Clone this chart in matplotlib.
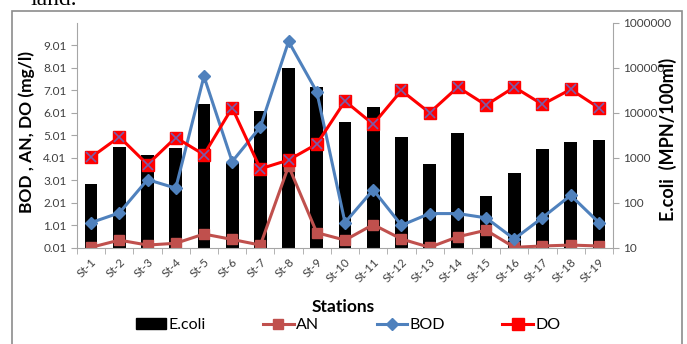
import matplotlib
matplotlib.use("Agg")
import matplotlib.pyplot as plt
from matplotlib.patches import Rectangle
from matplotlib.lines import Line2D
import numpy as np

# stations along the x axis
stations = ["St-%d" % i for i in range(1, 20)]

# E.coli (MPN/100ml), right log axis
ecoli = [265, 1750, 1170, 1660, 15800, 780, 11000, 100000, 38000, 6300,
         13500, 2950, 740, 3600, 145, 465, 1580, 2290, 2500]

# BOD, AN, DO (mg/l), left axis
bod = [1.14, 1.57, 3.05, 2.67, 7.64, 3.85, 5.39, 9.19, 6.95, 1.14,
       2.60, 1.02, 1.54, 1.54, 1.35, 0.41, 1.36, 2.35, 1.14]
an = [0.04, 0.36, 0.14, 0.22, 0.63, 0.39, 0.14, 3.65, 0.69, 0.36,
      1.05, 0.41, 0.04, 0.51, 0.80, 0.04, 0.10, 0.14, 0.10]
do = [4.04, 4.95, 3.72, 4.92, 4.16, 6.24, 3.53, 3.92, 4.63, 6.54,
      5.51, 7.01, 6.02, 7.16, 6.36, 7.16, 6.39, 7.06, 6.24]

left_ticks = [0.01, 1.01, 2.01, 3.01, 4.01, 5.01, 6.01, 7.01, 8.01, 9.01]
right_ticks = [10, 100, 1000, 10000, 100000, 1000000]

tick_font = "Lato"
grey = "#404040"

W, H = 687, 344
fig = plt.figure(figsize=(6.87, 3.44), dpi=100)

# border of the chart area, as in the document
fig.patches.append(Rectangle((12 / W, -0.05), 670 / W, 1 - 11 / H + 0.05,
                             transform=fig.transFigure, fill=False,
                             edgecolor="#8c8c8c", linewidth=1.2))
# cut off text of the document above
fig.text(0.045, 1 - 5 / H, "land.", family="Liberation Serif", fontsize=17,
         va="baseline", ha="left", color="black")

ax = fig.add_axes([77 / W, 1 - 248 / H, 536 / W, 225 / H])
ax2 = ax.twinx()
ax.set_zorder(ax2.get_zorder() + 1)
ax.patch.set_visible(False)

x = np.arange(len(stations))

# bars on the log axis
ax2.bar(x, ecoli, width=0.45, color="black", bottom=0)
ax2.set_yscale("log")
ax2.set_ylim(10, 1000000)
ax2.set_yticks(right_ticks)
ax2.set_yticklabels([str(t) for t in right_ticks])
ax2.minorticks_off()

# lines on the left axis
ax.plot(x, an, color="#C0504D", lw=2.2, marker="s", ms=7, mec="#C0504D")
ax.plot(x, bod, color="#4F81BD", lw=2.2, marker="D", ms=6, mec="#4F81BD")
ax.plot(x, do, color="#FF0000", lw=2.2, marker="s", ms=9, mec="#FF0000")
ax.plot(x, do, ls="none", marker="x", ms=7, mew=1.2, color="#7B5BA8")

ax.set_xlim(-0.5, len(stations) - 0.5)
ax.set_ylim(0.01, 10.01)
ax.set_yticks(left_ticks)
ax.set_yticklabels(["%.2f" % t for t in left_ticks])

ax.set_xticks(x)
ax.set_xticklabels(stations, rotation=45, ha="right", rotation_mode="anchor")
ax.set_xticks(np.arange(-0.5, len(stations), 1), minor=True)
ax.tick_params(axis="x", which="major", length=0, pad=6, labelsize=8.5, labelcolor=grey)
ax.tick_params(axis="x", which="minor", length=4, color="#a6a6a6")
ax.tick_params(axis="y", length=4, color="#a6a6a6", labelsize=8.5, labelcolor=grey)
ax2.tick_params(axis="y", length=4, color="#a6a6a6", labelsize=8.5, labelcolor=grey)

for a in (ax, ax2):
    for s in a.spines.values():
        s.set_visible(False)
    for lab in a.get_xticklabels() + a.get_yticklabels():
        lab.set_family(tick_font)
ax.spines["left"].set_visible(True)
ax.spines["left"].set_color("#a6a6a6")
ax.spines["bottom"].set_visible(True)
ax.spines["bottom"].set_color("#a6a6a6")
ax2.spines["right"].set_visible(True)
ax2.spines["right"].set_color("#a6a6a6")

# axis titles placed where the reference has them
fig.text(27 / W, 1 - 132 / H, "BOD , AN, DO (mg/l)", rotation=90, ha="center",
         va="center", family=tick_font, fontsize=12.5, fontweight="bold")
fig.text(668 / W, 1 - 139 / H, "E.coli  (MPN/100ml)", rotation=90, ha="center",
         va="center", family=tick_font, fontsize=13, fontweight="bold")
fig.text(343 / W, 1 - 307 / H, "Stations", ha="center", va="center",
         family=tick_font, fontsize=12.5, fontweight="bold")

# legend
handles = [
    Rectangle((0, 0), 1, 1, color="black"),
    Line2D([], [], color="#C0504D", lw=2.2, marker="s", ms=7),
    Line2D([], [], color="#4F81BD", lw=2.2, marker="D", ms=6),
    Line2D([], [], color="#FF0000", lw=2.2, marker="s", ms=8),
]
fig.legend(handles, ["E.coli", "AN", "BOD", "DO"], ncol=4, loc="center",
           bbox_to_anchor=(348 / W, 1 - 325 / H), frameon=False,
           prop={"family": tick_font, "size": 11.5}, columnspacing=3.6,
           handlelength=1.9, handletextpad=0.15)

fig.savefig("out.png", dpi=100)
